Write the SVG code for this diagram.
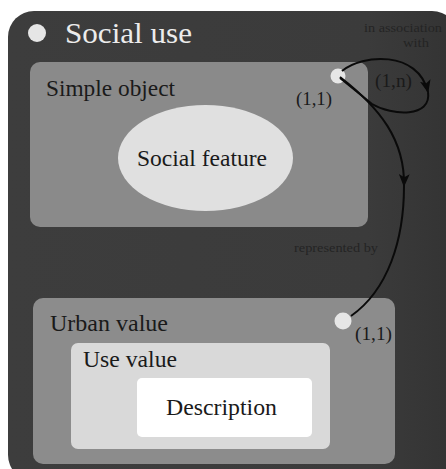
<svg xmlns="http://www.w3.org/2000/svg" width="446" height="469" viewBox="0 0 446 469">
<defs>
<style>
text{font-family:'Liberation Serif','Times New Roman',Tinos,serif}
.t{fill:#1a1a1a}
.sm{fill:#242424;font-size:13px}
.ln{fill:none;stroke:#0a0a0a;stroke-width:2}
.dot{fill:#e6e6e6}
</style>
<linearGradient id="bg" x1="0" y1="0" x2="1" y2="0">
<stop offset="0" stop-color="#3d3d3d"/>
<stop offset="0.8" stop-color="#3b3b3b"/>
<stop offset="1" stop-color="#333333"/>
</linearGradient>
<marker id="ah" viewBox="0 0 12 10" refX="11" refY="5" markerWidth="13" markerHeight="11" markerUnits="userSpaceOnUse" orient="auto">
<path d="M0,0 L12,5 L0,10 L3,5 Z" fill="#0a0a0a"/>
</marker>
</defs>
<rect width="446" height="469" fill="#ffffff"/>
<g id="social-use">
<rect x="8" y="11" width="450" height="470" rx="26" fill="url(#bg)"/>
<circle class="dot" cx="37" cy="33" r="9"/>
<text x="65" y="43" font-size="30" fill="#ececec" textLength="127" lengthAdjust="spacingAndGlyphs">Social use</text>
</g>
<g id="simple-object">
<rect x="30" y="62" width="338" height="165" rx="10" fill="#8a8a8a"/>
<text class="t" x="46" y="96" font-size="23" textLength="129" lengthAdjust="spacingAndGlyphs">Simple object</text>
<circle class="dot" cx="338" cy="76" r="7.5"/>
<text class="t" x="296" y="105" font-size="19" textLength="36" lengthAdjust="spacingAndGlyphs">(1,1)</text>
</g>
<g id="social-feature">
<ellipse cx="205.5" cy="158" rx="87.5" ry="53" fill="#e0e0e0"/>
<text class="t" x="137" y="166" font-size="23" textLength="130" lengthAdjust="spacingAndGlyphs">Social feature</text>
</g>
<g id="urban-value">
<rect x="33" y="298" width="362" height="166" rx="10" fill="#8c8c8c"/>
<text class="t" x="50" y="331" font-size="23" textLength="118" lengthAdjust="spacingAndGlyphs">Urban value</text>
<circle class="dot" cx="343" cy="321" r="8.5"/>
<text class="t" x="355" y="340" font-size="19" textLength="37" lengthAdjust="spacingAndGlyphs">(1,1)</text>
</g>
<g id="use-value">
<rect x="71" y="343" width="259" height="106" rx="7" fill="#d9d9d9"/>
<text class="t" x="83" y="367" font-size="23" textLength="94" lengthAdjust="spacingAndGlyphs">Use value</text>
</g>
<g id="description">
<rect x="137" y="378" width="175" height="59" rx="5" fill="#ffffff"/>
<text class="t" x="166" y="415" font-size="23" textLength="111" lengthAdjust="spacingAndGlyphs">Description</text>
</g>
<g id="connectors">
<path class="ln" d="M342,71 C362,54 418,50 428,92" marker-end="url(#ah)"/>
<path class="ln" d="M428,92 C432,118 392,116 372,104 L340,78"/>
<path class="ln" d="M340,77 C380,108 405,140 404,186" marker-end="url(#ah)"/>
<path class="ln" d="M404,186 C404,240 388,290 351,316"/>
<text class="sm" x="364" y="32" textLength="78" lengthAdjust="spacingAndGlyphs">in association</text>
<text class="sm" x="403" y="47" textLength="26" lengthAdjust="spacingAndGlyphs">with</text>
<text class="t" x="375" y="87" font-size="19" textLength="37" lengthAdjust="spacingAndGlyphs">(1,n)</text>
<text class="sm" x="294" y="252" textLength="84" lengthAdjust="spacingAndGlyphs">represented by</text>
</g>
</svg>
